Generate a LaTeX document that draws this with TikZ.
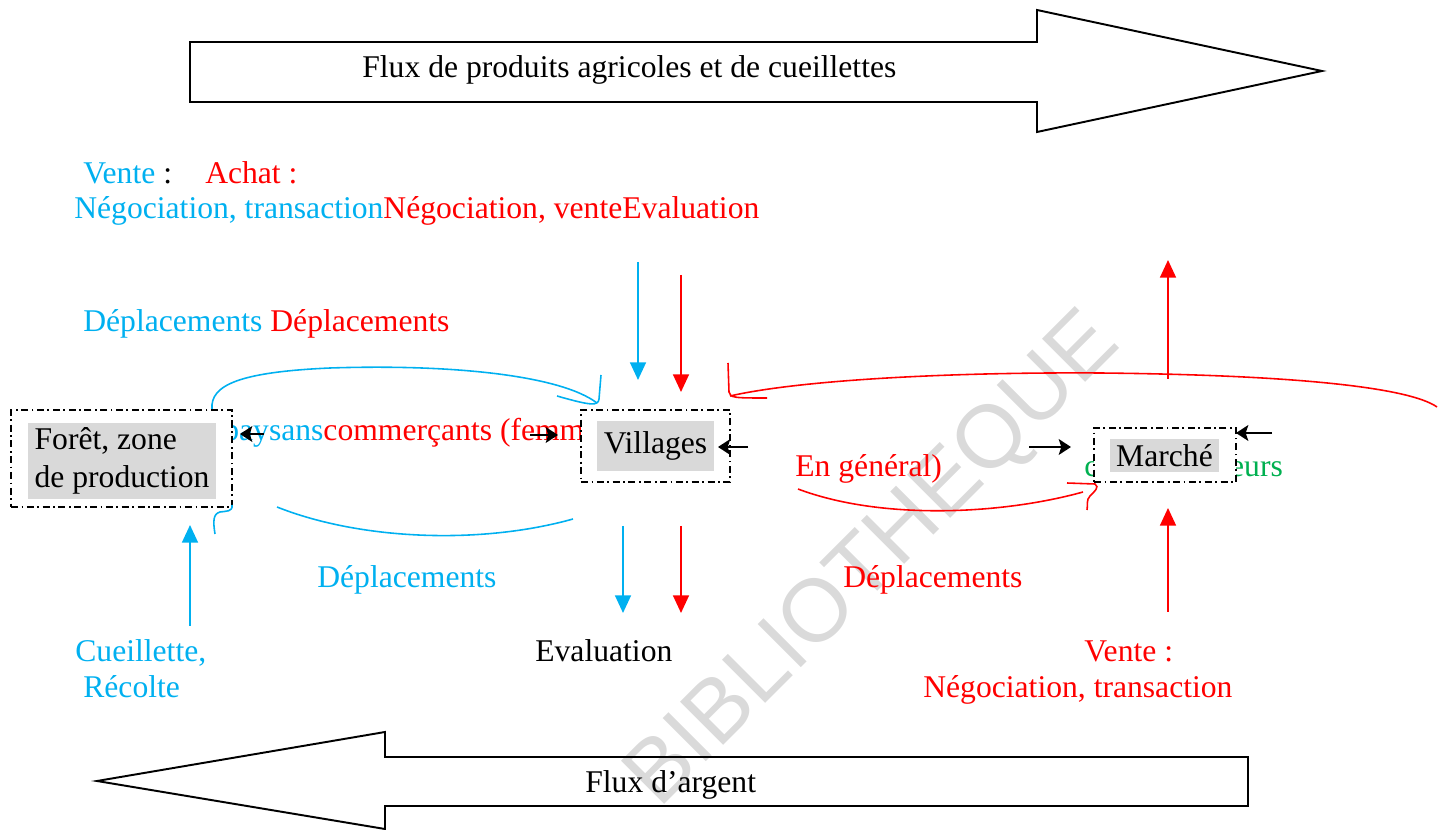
\documentclass[tikz,border=0pt]{standalone}
\usepackage{fontspec}
\setmainfont{Liberation Serif}
\newfontfamily\filigranefont{Liberation Sans}
\usepackage{tikz}
\usetikzlibrary{arrows.meta}
\definecolor{bleuciel}{HTML}{00B0F0}
\definecolor{rouge}{HTML}{FF0000}
\definecolor{vert}{HTML}{00B050}
\definecolor{grisfond}{HTML}{D9D9D9}
\definecolor{grismarque}{HTML}{DADADA}
\tikzset{
    cadre/.style={draw,line width=1.1pt,dash pattern=on 4pt off 2pt on 1pt off 2pt,fill=white,inner sep=0pt},
    fond gris/.style={fill=grisfond,inner sep=0pt},
    texte/.style={inner sep=0pt,anchor=base west},
    grosse fleche/.style={draw=black,line width=1.1pt},
    fleche/.style={-{Triangle[width=9pt,length=10pt]},line width=1.1pt},
    petite fleche/.style={-{Stealth[width=9pt,length=7pt,inset=1.5pt]},line width=1.2pt,black},
    courbe/.style={line width=0.9pt},
    marque eau/.style={font=\filigranefont\fontsize{50.5}{60}\selectfont,text=grismarque,rotate=45,inner sep=0pt},
}
\tikzstyle{every node}=[font=\fontsize{18}{21.5}\selectfont]
\begin{document}
\begin{tikzpicture}[x=0.02cm,y=-0.02cm]
    \useasboundingbox (0,0) rectangle (1440,830);
    \node[marque eau] (filigrane) at (875,562) {BIBLIOTHEQUE};

    % les deux flux
    \draw[grosse fleche] (190,42) -- (1037,42) -- (1037,10) -- (1322,71)
        -- (1037,132) -- (1037,102) -- (190,102) -- cycle;
    \node[texte] (fluxproduits) at (362,78) {Flux de produits agricoles et de cueillettes};
    \draw[grosse fleche] (1248,757) -- (385,757) -- (385,732) -- (97,781)
        -- (385,829) -- (385,806) -- (1248,806) -- cycle;
    \node[texte] (fluxargent) at (585,792) {Flux d’argent};

    \node[texte] (venteachat) at (83,184) {\textcolor{bleuciel}{Vente} :\hspace{1.05em}\textcolor{rouge}{Achat :}};
    \node[texte] (negociation) at (74,219) {\textcolor{bleuciel}{Négociation, transaction}\textcolor{rouge}{Négociation, venteEvaluation}};
    \node[texte] (deplhaut) at (83,332) {\textcolor{bleuciel}{Déplacements} \textcolor{rouge}{Déplacements}};

    \node[texte] (paysans) at (223,441) {\textcolor{bleuciel}{paysans}\textcolor{rouge}{commerçants (femmes}};
    \node[texte,rouge] (engeneral) at (795,477) {En général)};
    \node[texte,vert] (consommateurs) at (1084,477) {consommateurs};

    % les trois lieux
    \node[cadre,minimum width=4.42cm,minimum height=1.94cm] (cadreforet) at (121.5,458.5) {};
    \node[fond gris,minimum width=3.76cm,minimum height=1.52cm,align=left] (foret) at (122,461) {Forêt, zone\\de production};
    \node[cadre,minimum width=2.98cm,minimum height=1.44cm] (cadrevillages) at (655.5,446) {};
    \node[fond gris,minimum width=2.34cm,minimum height=1cm] (villages) at (655.5,446) {Villages};
    \node[cadre,minimum width=2.84cm,minimum height=1.08cm] (cadremarche) at (1165,455) {};
    \node[fond gris,minimum width=2.18cm,minimum height=0.66cm] (marche) at (1164.5,455.5) {Marché};

    \node[texte,bleuciel] (deplbleu) at (317,588) {Déplacements};
    \node[texte,rouge] (deplrouge) at (843,588) {Déplacements};
    \node[texte,bleuciel] (cueillette) at (75,662) {Cueillette,};
    \node[texte,bleuciel] (recolte) at (83,698) {Récolte};
    \node[texte] (evaluation) at (535,662) {Evaluation};
    \node[texte,rouge] (ventemarche) at (1084,662) {Vente :};
    \node[texte,rouge] (transaction) at (923,698) {Négociation, transaction};

    \coordinate (hautbleu) at (638,262);
    \coordinate (hautbleufin) at (638,380);
    \coordinate (hautrouge) at (681,275);
    \coordinate (hautrougefin) at (681,392);
    \coordinate (basbleu) at (623,526);
    \coordinate (basbleufin) at (623,613);
    \coordinate (basrouge) at (681,526);
    \coordinate (basrougefin) at (681,613);
    \coordinate (marchehaut) at (1168,379);
    \coordinate (marchehautfin) at (1168,260);
    \coordinate (marchebas) at (1168,612);
    \coordinate (marchebasfin) at (1168,508);
    \coordinate (recoltebas) at (190,626);
    \coordinate (recoltefin) at (190,525);

    \draw[fleche,bleuciel] (hautbleu) -- (hautbleufin);
    \draw[fleche,rouge] (hautrouge) -- (hautrougefin);
    \draw[fleche,bleuciel] (basbleu) -- (basbleufin);
    \draw[fleche,rouge] (basrouge) -- (basrougefin);
    \draw[fleche,rouge] (marchehaut) -- (marchehautfin);
    \draw[fleche,rouge] (marchebas) -- (marchebasfin);
    \draw[fleche,bleuciel] (recoltebas) -- (recoltefin);

    \draw[petite fleche] (264,434) -- (240,434);
    \draw[petite fleche] (530,435) -- (558,435);
    \draw[petite fleche] (748,447) -- (718,447);
    \draw[petite fleche] (1029,447) -- (1071,447);
    \draw[petite fleche] (1272,433) -- (1236,433);

    % deplacements a main levee
    \draw[courbe,bleuciel] (212,409) .. controls (210,385) and (240,372) .. (330,368)
        .. controls (450,364) and (560,375) .. (597,403);
    \draw[courbe,bleuciel] (601,375) -- (599,399) .. controls (598,406) and (592,406) .. (557,396);
    \draw[courbe,bleuciel] (573,519) .. controls (480,545) and (360,540) .. (277,507);
    \draw[courbe,bleuciel] (232,505) .. controls (233,512) and (226,511) .. (220,512)
        .. controls (213,514) and (213,521) .. (215,534);
    \draw[courbe,rouge] (730,396) .. controls (800,380) and (950,372) .. (1100,373)
        .. controls (1300,375) and (1410,388) .. (1437,407);
    \draw[courbe,rouge] (728,363) -- (729,392) .. controls (730,398) and (735,398) .. (767,398);
    \draw[courbe,rouge] (798,489) .. controls (880,520) and (1000,515) .. (1083,492);
    \draw[courbe,rouge] (1067,483) -- (1095,484) .. controls (1100,487) and (1094,492) .. (1090,496)
        .. controls (1086,500) and (1088,505) .. (1087,510);
\end{tikzpicture}
\end{document}
